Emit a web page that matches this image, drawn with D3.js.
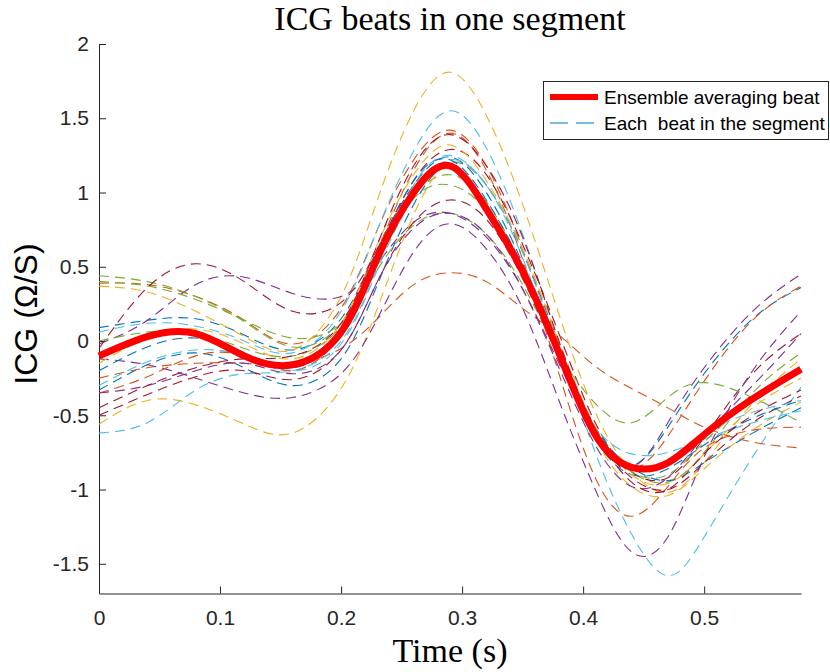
<!DOCTYPE html>
<html>
<head>
<meta charset="utf-8">
<script src="https://cdn.jsdelivr.net/npm/d3@7"></script>
<style>
  body { margin: 0; background: #fff; }
  svg { display: block; }
</style>
</head>
<body>
<svg></svg>
<script>
// sample times (s)
const times = [0, 0.04, 0.08, 0.12, 0.16, 0.20, 0.23, 0.26, 0.29, 0.32, 0.35, 0.38, 0.41, 0.44, 0.47, 0.50, 0.54, 0.58];

// ensemble averaging beat
const ensembleBeat = [-0.10, 0.03, 0.05, -0.10, -0.16, 0.06, 0.56, 1.00, 1.18, 0.89, 0.47, -0.08, -0.63, -0.85, -0.82, -0.63, -0.39, -0.19];

// each beat in the segment (plot order)
const beat01 = [0.09, 0.14, 0.15, 0.04, -0.06, 0.15, 0.62, 1.05, 1.24, 1.00, 0.52, -0.10, -0.62, -0.84, -0.58, -0.22, 0.15, 0.36];
const beat02 = [0.39, 0.38, 0.30, 0.14, -0.02, 0.22, 0.75, 1.22, 1.42, 1.18, 0.62, -0.05, -0.60, -0.86, -0.64, -0.27, 0.14, 0.37];
const beat03 = [0.37, 0.33, 0.20, 0.03, -0.06, 0.30, 0.95, 1.55, 1.81, 1.52, 0.92, 0.18, -0.48, -0.88, -1.02, -0.82, -0.42, -0.12];
const beat04 = [-0.02, 0.14, 0.38, 0.43, 0.32, 0.30, 0.52, 0.80, 0.86, 0.70, 0.35, -0.15, -0.62, -0.85, -0.55, -0.18, 0.20, 0.45];
const beat05 = [0.44, 0.40, 0.30, 0.13, -0.04, 0.12, 0.58, 0.98, 1.12, 0.94, 0.50, -0.05, -0.58, -0.88, -0.95, -0.75, -0.35, -0.08];
const beat06 = [0.06, 0.12, 0.10, 0.00, -0.08, 0.20, 0.75, 1.28, 1.55, 1.30, 0.72, -0.02, -0.75, -1.30, -1.58, -1.32, -0.78, -0.31];
const beat07 = [-0.05, 0.36, 0.52, 0.40, 0.20, 0.26, 0.62, 1.08, 1.29, 1.12, 0.65, 0.05, -0.55, -0.88, -0.92, -0.65, -0.22, 0.05];
const beat08 = [-0.33, -0.16, -0.08, -0.18, -0.30, -0.12, 0.38, 0.92, 1.20, 1.05, 0.60, -0.02, -0.58, -0.85, -0.94, -0.82, -0.62, -0.45];
const beat09 = [-0.25, -0.18, -0.15, -0.15, -0.16, -0.05, 0.15, 0.38, 0.46, 0.40, 0.22, 0.04, -0.17, -0.32, -0.45, -0.58, -0.68, -0.72];
const beat10 = [-0.56, -0.40, -0.43, -0.56, -0.62, -0.32, 0.22, 0.85, 1.20, 1.05, 0.62, -0.02, -0.65, -0.98, -1.04, -0.86, -0.60, -0.41];
const beat11 = [-0.12, -0.16, -0.25, -0.35, -0.38, -0.22, 0.15, 0.60, 0.79, 0.62, 0.22, -0.40, -1.00, -1.42, -1.32, -0.78, -0.20, 0.20];
const beat12 = [0.40, 0.37, 0.28, 0.14, 0.02, 0.12, 0.48, 0.78, 0.86, 0.72, 0.38, -0.08, -0.42, -0.55, -0.38, -0.28, -0.38, -0.55];
const beat13 = [-0.30, -0.14, -0.06, -0.10, -0.20, -0.02, 0.48, 0.98, 1.22, 1.05, 0.56, -0.10, -0.58, -0.76, -0.75, -0.66, -0.55, -0.47];
const beat14 = [-0.50, -0.36, -0.24, -0.20, -0.26, -0.06, 0.40, 0.80, 0.95, 0.82, 0.42, -0.12, -0.62, -0.92, -1.00, -0.82, -0.55, -0.37];
const beat15 = [-0.20, -0.04, 0.02, -0.08, -0.18, 0.05, 0.58, 1.08, 1.22, 0.95, 0.50, -0.08, -0.65, -0.90, -0.86, -0.70, -0.52, -0.40];
const beat16 = [-0.35, -0.24, -0.10, -0.10, -0.20, 0.05, 0.60, 1.15, 1.40, 1.15, 0.55, -0.22, -0.92, -1.18, -0.98, -0.72, -0.60, -0.58];
const beat17 = [-0.15, 0.02, 0.08, -0.02, -0.12, 0.12, 0.65, 1.12, 1.32, 1.08, 0.62, 0.00, -0.58, -0.90, -0.96, -0.76, -0.45, -0.25];
const beat18 = [-0.35, -0.30, -0.20, -0.15, -0.22, -0.06, 0.40, 0.76, 0.86, 0.72, 0.35, -0.18, -0.70, -0.98, -0.92, -0.64, -0.30, 0.05];
const beat19 = [0.00, 0.06, 0.05, -0.05, -0.10, 0.10, 0.55, 0.96, 1.05, 0.88, 0.45, -0.10, -0.60, -0.88, -0.90, -0.68, -0.40, -0.20];
const beat20 = [-0.62, -0.55, -0.33, -0.22, -0.20, 0.00, 0.50, 1.05, 1.25, 1.05, 0.60, -0.05, -0.60, -0.85, -0.80, -0.62, -0.48, -0.40];
const beat21 = [-0.45, -0.30, -0.18, -0.12, -0.10, 0.12, 0.65, 1.18, 1.39, 1.18, 0.70, 0.00, -0.60, -0.95, -1.00, -0.76, -0.50, -0.33];

const beats = [beat01, beat02, beat03, beat04, beat05, beat06, beat07, beat08, beat09, beat10, beat11,
               beat12, beat13, beat14, beat15, beat16, beat17, beat18, beat19, beat20, beat21];

const xTicks = [0, 0.1, 0.2, 0.3, 0.4, 0.5];
const yTicks = [-1.5, -1, -0.5, 0, 0.5, 1, 1.5, 2];
const legendLabels = ['Ensemble averaging beat', 'Each  beat in the segment'];

// matlab default line colours
const palette = ['#0072BD', '#D95319', '#EDB120', '#7E2F8E', '#77AC30', '#4DBEEE', '#A2142F'];

const size = {w: 830, h: 672};
const plot = {l: 99, r: 801, t: 44, b: 593.5};
const axisColor = '#262626';

const svg = d3.select('svg')
    .attr('width', size.w)
    .attr('height', size.h);

const x = d3.scaleLinear().domain([0, 0.58]).range([plot.l, plot.r]);
const y = d3.scaleLinear().domain([-1.7, 2]).range([plot.b, plot.t]);
const colorScale = d3.scaleOrdinal().domain(d3.range(beats.length)).range(palette);

const line = d3.line()
    .x((d, i) => x(times[i]))
    .y(d => y(d))
    .curve(d3.curveNatural);

// axes
let xAxis = svg.append('g')
    .attr('transform', `translate(0,${plot.b})`)
    .call(d3.axisBottom(x).tickValues(xTicks).tickFormat(d => String(d))
        .tickSizeInner(-7).tickSizeOuter(0).tickPadding(17));

let yAxis = svg.append('g')
    .attr('transform', `translate(${plot.l},0)`)
    .call(d3.axisLeft(y).tickValues(yTicks).tickFormat(d => String(d))
        .tickSizeInner(-7).tickSizeOuter(0).tickPadding(10));

[xAxis, yAxis].forEach(g => {
    g.selectAll('path, line').attr('stroke', axisColor).attr('stroke-width', 1);
    g.selectAll('text')
        .attr('fill', axisColor)
        .style('font-family', '"Liberation Sans", Arial, sans-serif')
        .style('font-size', '21px');
});

// beats
svg.append('g')
    .attr('fill', 'none')
    .attr('stroke-width', 1.1)
    .attr('stroke-dasharray', '10,6')
    .selectAll('path')
    .data(beats)
    .join('path')
    .attr('stroke', (d, i) => colorScale(i))
    .attr('d', line);

svg.append('path')
    .datum(ensembleBeat)
    .attr('fill', 'none')
    .attr('stroke', '#ff0000')
    .attr('stroke-width', 7)
    .attr('stroke-linejoin', 'round')
    .attr('d', line);

// titles
svg.append('text')
    .attr('x', (plot.l + plot.r) / 2)
    .attr('y', 30)
    .attr('text-anchor', 'middle')
    .style('font-family', '"Liberation Serif", "Times New Roman", serif')
    .style('font-size', '34px')
    .text('ICG beats in one segment');

svg.append('text')
    .attr('x', (plot.l + plot.r) / 2)
    .attr('y', 662)
    .attr('text-anchor', 'middle')
    .style('font-family', '"Liberation Serif", "Times New Roman", serif')
    .style('font-size', '34px')
    .text('Time (s)');

svg.append('text')
    .attr('transform', 'translate(37,314) rotate(-90)')
    .attr('text-anchor', 'middle')
    .style('font-family', '"Liberation Sans", Arial, sans-serif')
    .style('font-size', '32px')
    .text('ICG (Ω/S)');

// legend
const legend = svg.append('g');
legend.append('rect')
    .attr('x', 543.5).attr('y', 81.5)
    .attr('width', 285).attr('height', 58)
    .attr('fill', '#fff')
    .attr('stroke', axisColor);

legend.append('line')
    .attr('x1', 550).attr('x2', 598)
    .attr('y1', 97).attr('y2', 97)
    .attr('stroke', '#ff0000').attr('stroke-width', 6);

legend.append('line')
    .attr('x1', 550).attr('x2', 598)
    .attr('y1', 123).attr('y2', 123)
    .attr('stroke', palette[0]).attr('stroke-width', 1.1)
    .attr('stroke-dasharray', '18,8');

legend.selectAll('text')
    .data(legendLabels)
    .join('text')
    .attr('x', 604)
    .attr('y', (d, i) => 97 + i * 26)
    .attr('dy', '0.35em')
    .attr('fill', '#000')
    .style('font-family', '"Liberation Sans", Arial, sans-serif')
    .style('font-size', '19px')
    .style('white-space', 'pre')
    .text(d => d);
</script>
</body>
</html>
